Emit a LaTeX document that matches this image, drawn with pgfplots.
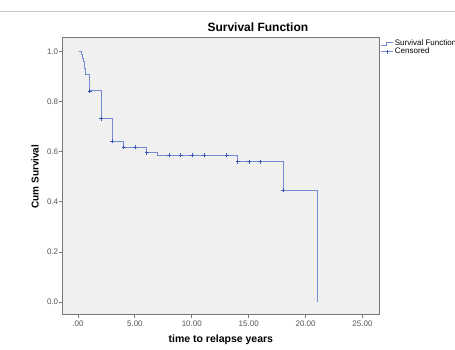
\documentclass[border=0pt]{standalone}
\usepackage{pgfplots}
\pgfplotsset{compat=1.18}
\usepackage{fontspec}
\setmainfont{Liberation Sans}
\definecolor{curve}{RGB}{115,140,212}
\definecolor{cmark}{RGB}{60,85,180}
\definecolor{bg}{RGB}{240,240,240}
\definecolor{frame}{RGB}{120,120,120}
\definecolor{ticklab}{RGB}{85,85,85}
\begin{document}
\begin{tikzpicture}
\path[use as bounding box] (0,0) rectangle (455pt,-349pt);
\draw[gray!45, line width=0.8pt] (0pt,-11pt) -- (455pt,-11pt);
\begin{axis}[
  at={(62.7pt,-314pt)}, anchor=south west,
  scale only axis, width=316.3pt, height=277pt,
  xmin=-1.344, xmax=26.45, ymin=-0.048, ymax=1.0587,
  axis background/.style={fill=bg},
  axis line style={frame, line width=1pt},
  tick pos=left, tick align=outside,
  major tick length=3.5pt,
  tick style={frame, line width=0.8pt},
  xtick={0,5,10,15,20,25},
  xticklabels={.00,5.00,10.00,15.00,20.00,25.00},
  ytick={0,0.2,0.4,0.6,0.8,1.0},
  yticklabels={0.0,0.2,0.4,0.6,0.8,1.0},
  /pgf/number format/assume math mode=true,
  tick label style={font=\fontsize{8}{9.5}\selectfont, text=ticklab},
  yticklabel style={inner sep=0.8pt},
  title={Survival Function},
  title style={font=\fontsize{12}{14}\selectfont\bfseries, at={(axis description cs:0.617,1.0126)}, anchor=center},
  xlabel={time to relapse years},
  xlabel style={font=\fontsize{10.5}{12}\selectfont\bfseries, at={(axis description cs:0.5,-0.094)}, anchor=center},
  ylabel={Cum Survival},
  ylabel style={font=\fontsize{10}{12}\selectfont\bfseries, at={(axis description cs:-0.0876,0.496)}, anchor=center, rotate=0},
  legend style={at={(axis description cs:1.0,0.993)}, anchor=north west, draw=none, fill=none,
    font=\fontsize{8}{9}\selectfont, inner xsep=1pt, inner ysep=0pt, row sep=-1.5pt,
    nodes={inner sep=1pt}},
  legend cell align=left,
]
\addplot[const plot, color=curve, line width=1pt,
  legend image code/.code={\draw[curve, line width=0.9pt] (0cm,-0.05cm) -- (0.2cm,-0.05cm) -- (0.2cm,0.05cm) -- (0.45cm,0.05cm);}]
coordinates {
(0.05,1.0) (0.35,0.987) (0.43,0.974) (0.5,0.960) (0.56,0.947) (0.61,0.933)
(0.66,0.920) (0.7,0.910) (1.05,0.843) (2.05,0.732) (3.0,0.643) (4.03,0.618)
(6.03,0.596) (7.0,0.586) (14.03,0.561) (18.03,0.447) (21.02,0.0)
};
\addlegendentry{Survival Function}
\addplot[only marks, mark=+, mark size=2pt, color=cmark, mark options={line width=0.9pt},
  legend image code/.code={\draw[curve, line width=0.9pt] (0cm,0cm) -- (0.45cm,0cm); \draw[cmark, line width=0.9pt] (0.225cm,-0.07cm) -- (0.225cm,0.07cm);}]
coordinates {
(1.05,0.843) (2.05,0.732) (3.0,0.643) (4.03,0.618) (5.05,0.618) (6.03,0.596)
(8.03,0.586) (9.02,0.586) (10.05,0.586) (11.07,0.586) (13.06,0.586)
(14.03,0.561) (15.03,0.561) (16.02,0.561) (18.03,0.447)
};
\addlegendentry{Censored}
\end{axis}
\end{tikzpicture}
\end{document}
